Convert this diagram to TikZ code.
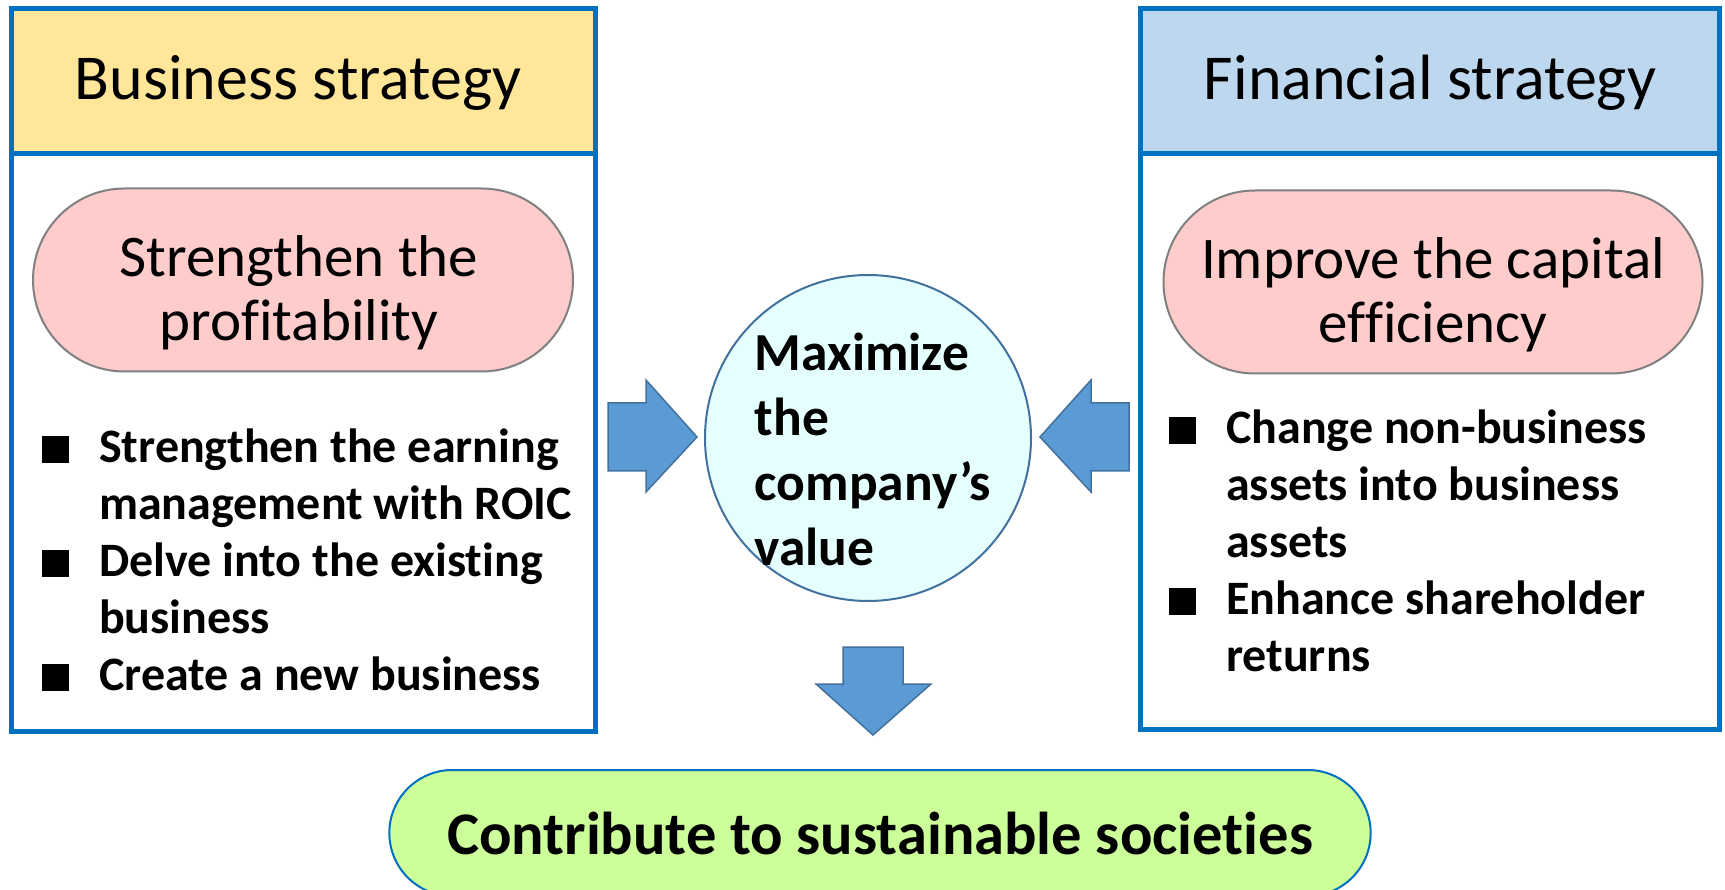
\documentclass[tikz,border=0pt]{standalone}
\usepackage{fontspec}
\setmainfont[Ligatures=NoCommon]{Carlito}
\usetikzlibrary{shapes.misc}

\begin{document}
\begin{tikzpicture}[x=1pt, y=-1pt]

\def\headbot{154}
\def\sq{\makebox[57pt][l]{\rule{27pt}{27pt}}}

% Colours
\definecolor{framecolor}{HTML}{0070C0}
\definecolor{bizcolor}{HTML}{FFE699}
\definecolor{fincolor}{HTML}{BDD7EE}
\definecolor{pillcolor}{HTML}{FFCCCC}
\definecolor{valuecolor}{HTML}{E5FFFF}
\definecolor{arrowcolor}{HTML}{5B9BD5}
\definecolor{arrowline}{HTML}{41719C}
\definecolor{goalcolor}{HTML}{CCFF99}

% Styles
\tikzstyle{frame line}=[draw=framecolor, line width=5pt]
\tikzstyle{head}=[inner sep=0pt, font=\fontsize{64}{70}\selectfont]
\tikzstyle{pill}=[rounded rectangle, draw=gray, line width=2pt, fill=pillcolor, minimum width=540pt, minimum height=183pt, inner sep=0pt]
\tikzstyle{pill text}=[align=center, inner sep=0pt, font=\fontsize{59}{64}\selectfont]
\tikzstyle{list}=[anchor=base west, inner sep=0pt, font=\fontsize{48}{57}\selectfont\bfseries]
\tikzstyle{block arrow}=[fill=arrowcolor, draw=arrowline, line width=1.5pt, line join=miter]

\useasboundingbox (0,0) rectangle (1725,890);

% Business strategy
\fill[bizcolor] (11,9) rectangle (595,\headbot);
\draw[frame line] (11,9) rectangle (595,731) (11,\headbot) -- (595,\headbot);
\node[head] (bizhead) at (298,83) {Business strategy};
\node[pill] (bizpill) at (303,280) {};
\node[pill text] (bizgoal) at ([shift={(-4pt,-13pt)}]bizpill.center) {Strengthen the\\profitability};
\node[list] (bizlist) at (42,463) {\begin{tabular}[t]{@{}l@{}l@{}}
  \sq & Strengthen the earning\\
      & management with ROIC\\
  \sq & Delve into the existing\\
      & business\\
  \sq & Create a new business
\end{tabular}};

% Financial strategy
\fill[fincolor] (1140,9) rectangle (1719,\headbot);
\draw[frame line] (1140,9) rectangle (1719,729) (1140,\headbot) -- (1719,\headbot);
\node[head] (finhead) at (1430,83) {Financial strategy};
\node[pill, minimum width=539pt] (finpill) at (1433,282) {};
\node[pill text] (fingoal) at ([yshift=-13pt]finpill.center) {Improve the capital\\efficiency};
\node[list] (finlist) at (1169,444) {\begin{tabular}[t]{@{}l@{}l@{}}
  \sq & Change non-business\\
      & assets into business\\
      & assets\\
  \sq & Enhance shareholder\\
      & returns
\end{tabular}};

% Company value in the middle
\node[circle, draw=arrowline, line width=2pt, fill=valuecolor, minimum size=326pt, inner sep=0pt] (value) at (868,438) {};
\node[align=left, inner sep=0pt, font=\fontsize{53.5}{65}\selectfont\bfseries] (valuetext) at ([shift={(5pt,-11pt)}]value.center)
      {Maximize\\the\\company’s\\value};

% Block arrows
\draw[block arrow] (608,403) -- (646,403) -- (646,380) -- (697,437) -- (646,492) -- (646,471) -- (608,471) -- cycle;
\draw[block arrow] (1129,403) -- (1091,403) -- (1091,380) -- (1040,437) -- (1091,492) -- (1091,471) -- (1129,471) -- cycle;
\draw[block arrow] (843,647) -- (903,647) -- (903,684) -- (931,684) -- (873,735) -- (816,684) -- (843,684) -- cycle;

% Goal
\node[rounded rectangle, draw=framecolor, line width=2pt, fill=goalcolor, minimum width=988pt, minimum height=126pt,
      font=\fontsize{60.5}{64}\selectfont\bfseries] (goal) at (880,833) {Contribute to sustainable societies};

\end{tikzpicture}
\end{document}
